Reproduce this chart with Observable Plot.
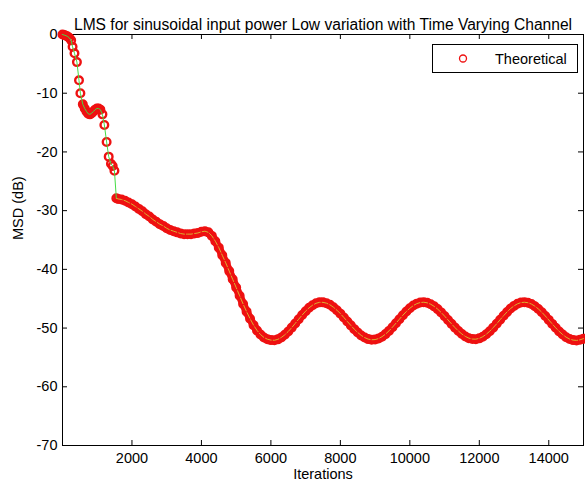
<!DOCTYPE html>
<html>
<head>
<meta charset="utf-8">
<script src="https://cdn.jsdelivr.net/npm/d3@7"></script>
<script src="https://cdn.jsdelivr.net/npm/@observablehq/plot@0.6"></script>
<style>
  html, body { margin: 0; padding: 0; background: #fff; }
  #chart svg { display: block; }
</style>
</head>
<body>
<div id="chart"></div>
<script>
const titleText = "LMS for sinusoidal input power Low variation with Time Varying Channel";
const xLabelText = "Iterations";
const yLabelText = "MSD (dB)";
const legendLabel = "Theoretical";

const xTicks = [2000, 4000, 6000, 8000, 10000, 12000, 14000];
const yTicks = [0, -10, -20, -30, -40, -50, -60, -70];

// Early (sparse) part of the curve
const earlyIter = [0, 50, 100, 150, 200, 250, 290, 345, 415, 475, 515, 585, 640, 690, 740, 790, 840, 890, 940, 990, 1040, 1090, 1150, 1205, 1270, 1330, 1395, 1445, 1495, 1550];
const earlyMsd  = [0, -0.1, -0.2, -0.35, -0.6, -1.0, -2.1, -3.2, -4.7, -7.8, -10.0, -11.9, -12.6, -13.1, -13.5, -13.6, -13.4, -13.1, -12.8, -12.6, -12.6, -12.8, -13.6, -15.4, -18.3, -20.8, -22.0, -22.4, -23.2, -27.9];

// Later part, one value every 100 iterations from 1600 to 15000
const lateStart = 1600;
const lateStep = 100;
const lateMsd = [
  -28.0, -28.1, -28.3, -28.6, -28.9, -29.3, -29.7, -30.1, -30.6, -31.0,
  -31.5, -31.9, -32.3, -32.6, -33.0, -33.3, -33.5, -33.7, -33.9, -34.0,
  -34.0, -34.0, -33.9, -33.8, -33.6, -33.5, -33.7, -34.3, -35.2, -36.3,
  -37.6, -38.9, -40.3, -41.7, -43.1, -44.5, -45.9, -47.2, -48.4, -49.5,
  -50.4, -51.1, -51.6, -51.9, -52.05, -52.08, -51.92, -51.60, -51.15, -50.58,
  -49.92, -49.21, -48.49, -47.78, -47.12, -46.55, -46.10, -45.78, -45.62, -45.62,
  -45.76, -46.04, -46.45, -46.95, -47.54, -48.19, -48.87, -49.54, -50.18, -50.76,
  -51.25, -51.62, -51.88, -51.99, -51.96, -51.79, -51.47, -51.03, -50.48, -49.85,
  -49.18, -48.49, -47.81, -47.18, -46.63, -46.17, -45.84, -45.65, -45.60, -45.70,
  -45.94, -46.30, -46.77, -47.33, -47.96, -48.62, -49.28, -49.92, -50.51, -51.02,
  -51.43, -51.72, -51.87, -51.89, -51.75, -51.47, -51.06, -50.54, -49.93, -49.27,
  -48.57, -47.89, -47.25, -46.68, -46.22, -45.87, -45.66, -45.60, -45.68, -45.91,
  -46.27, -46.74, -47.30, -47.94, -48.61, -49.29, -49.96, -50.57, -51.11, -51.55,
  -51.87, -52.05, -52.10, -52.00, -51.80
];

const early = earlyIter.map((x, i) => ({x, y: earlyMsd[i]}));
const late = lateMsd.map((y, i) => ({x: lateStart + i * lateStep, y}));
const all = early.concat(late);
const tail = [early[early.length - 1]].concat(late);
const plateau = early.filter(d => d.x >= 585 && d.x <= 1100);

const W = 585, H = 491;
const mL = 62, mR = 2, mT = 34, mB = 46;
const innerW = W - mL - mR, innerH = H - mT - mB;
const font = "'Liberation Sans', Arial, Helvetica, sans-serif";
const fs = 14.5;
const red = "#ee1111";

const chart = Plot.plot({
  width: W,
  height: H,
  marginLeft: mL,
  marginRight: mR,
  marginTop: mT,
  marginBottom: mB,
  style: {fontFamily: font, fontSize: fs + "px", background: "#fff", color: "#000"},
  x: {domain: [0, 15000]},
  y: {domain: [-70, 0]},
  marks: [
    Plot.frame({stroke: "#000"}),
    Plot.axisX({ticks: xTicks, tickSize: 0, tickPadding: 7, label: null, tickFormat: d => String(d), fontSize: fs}),
    Plot.axisY({ticks: yTicks, tickSize: 0, tickPadding: 5, label: null, tickFormat: d => String(d), fontSize: fs}),
    Plot.tickX(xTicks, {x: d => d, insetTop: innerH - 5, stroke: "#000"}),
    Plot.tickX(xTicks, {x: d => d, insetBottom: innerH - 5, stroke: "#000"}),
    Plot.tickY(yTicks, {y: d => d, insetRight: innerW - 5, stroke: "#000"}),
    Plot.tickY(yTicks, {y: d => d, insetLeft: innerW - 5, stroke: "#000"}),
    // dense marker band: solid red core under the rings
    Plot.line(late, {x: "x", y: "y", stroke: red, strokeWidth: 8, strokeLinecap: "round", strokeLinejoin: "round"}),
    Plot.line(plateau, {x: "x", y: "y", stroke: red, strokeWidth: 6.5, strokeLinecap: "round", strokeLinejoin: "round"}),
    Plot.dot(all, {x: "x", y: "y", r: 3.8, stroke: red, strokeWidth: 2.4, fill: "none"}),
    Plot.line(early, {x: "x", y: "y", stroke: "#44dd44", strokeWidth: 1}),
    Plot.line(tail, {x: "x", y: "y", stroke: "#d9b030", strokeWidth: 1, strokeDasharray: "6,2"}),
    Plot.text([titleText], {frameAnchor: "top", dy: -16, fontSize: 15.6, fill: "#000"}),
    Plot.text([xLabelText], {frameAnchor: "bottom", dy: 33, fontSize: fs, fill: "#000"}),
    Plot.text([yLabelText], {frameAnchor: "left", dx: -44, rotate: -90, fontSize: fs, fill: "#000"})
  ]
});

document.getElementById("chart").appendChild(chart);

// Legend box (top right inside the axes)
const svg = d3.select(chart);
const lg = svg.append("g").attr("class", "legend");
lg.append("rect")
  .attr("x", 432.5).attr("y", 44.5).attr("width", 145).attr("height", 28)
  .attr("fill", "#fff").attr("stroke", "#000").attr("stroke-width", 1);
lg.append("circle")
  .attr("cx", 463).attr("cy", 58.5).attr("r", 3.5)
  .attr("fill", "#fff").attr("stroke", red).attr("stroke-width", 1.3);
lg.append("text")
  .attr("x", 495).attr("y", 58.5).attr("dy", "0.35em")
  .attr("text-anchor", "start")
  .attr("font-family", font).attr("font-size", fs).attr("fill", "#000")
  .text(legendLabel);
</script>
</body>
</html>
